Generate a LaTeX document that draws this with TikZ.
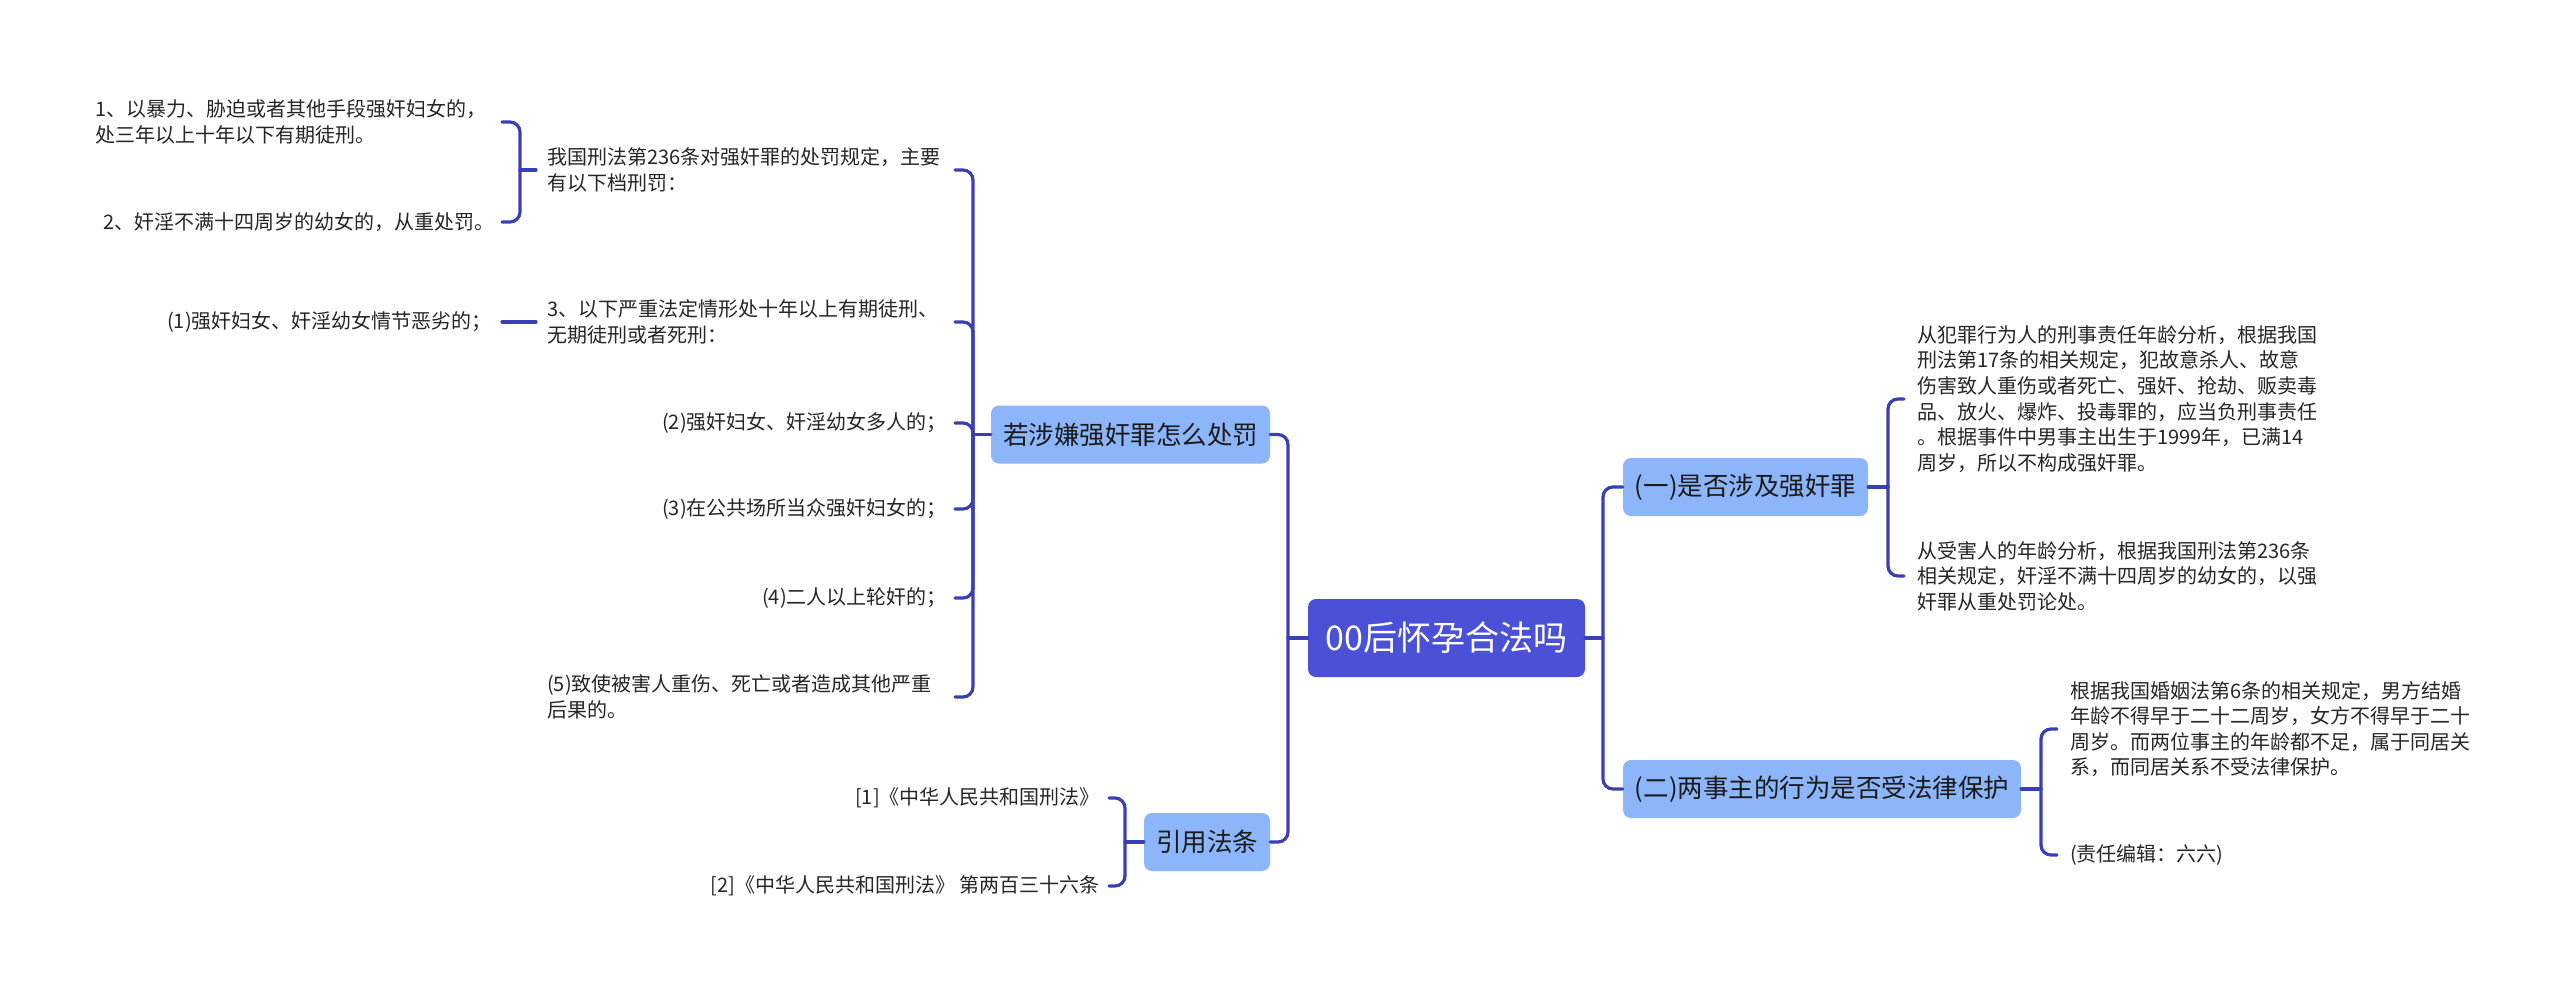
\documentclass[tikz,border=0pt]{standalone}
\usepackage{fontspec}
\setmainfont{Noto Sans CJK SC}
\definecolor{linec}{HTML}{3A3FB6}
\definecolor{rootc}{HTML}{4A51D6}
\definecolor{hubc}{HTML}{8DB5FA}
\definecolor{leafc}{HTML}{262626}
\definecolor{hubtext}{HTML}{1A1A1A}
\tikzset{
  leaf/.style={font=\fontsize{20}{25.6}\selectfont, text=leafc, inner sep=0pt, align=left},
  hub/.style={fill=hubc, rounded corners=8pt, font=\fontsize{25.5}{30}\selectfont, text=hubtext,
              minimum height=58pt, inner sep=0pt},
  rootbox/.style={fill=rootc, rounded corners=8pt, text=white, font=\fontsize{34}{40}\selectfont,
              minimum width=277pt, minimum height=78pt, inner sep=0pt},
  conn/.style={draw=linec, line width=3.2pt, rounded corners=10pt, line cap=round}
}
\begin{document}
\begin{tikzpicture}[x=1pt,y=-1pt]
\fill[white] (0,0) rectangle (2560,994);
\useasboundingbox (0,0) rectangle (2560,994);

% root and hubs
\node[rootbox] (root) at (1446.5,638) {00后怀孕合法吗};
\node[hub, minimum width=279pt] (hA) at (1130.5,434.5) {若涉嫌强奸罪怎么处罚};
\node[hub, minimum width=126pt] (hB) at (1207,842) {引用法条};
\node[hub, minimum width=245pt] (hC) at (1745.5,487) {(一)是否涉及强奸罪};
\node[hub, minimum width=398pt] (hD) at (1822,789) {(二)两事主的行为是否受法律保护};

% left leaves
\node[leaf, anchor=west] (m1) at (95,122) {1、以暴力、胁迫或者其他手段强奸妇女的，\\处三年以上十年以下有期徒刑。};
\node[leaf, anchor=east] (m2) at (495,222) {2、奸淫不满十四周岁的幼女的，从重处罚。};
\node[leaf, anchor=west] (n1) at (547,170) {我国刑法第236条对强奸罪的处罚规定，主要\\有以下档刑罚：};
\node[leaf, anchor=west] (n2) at (547,322) {3、以下严重法定情形处十年以上有期徒刑、\\无期徒刑或者死刑：};
\node[leaf, anchor=east] (p1) at (492,322) {(1)强奸妇女、奸淫幼女情节恶劣的；};
\node[leaf, anchor=east] (n3) at (947,423) {(2)强奸妇女、奸淫幼女多人的；};
\node[leaf, anchor=east] (n4) at (947,509) {(3)在公共场所当众强奸妇女的；};
\node[leaf, anchor=east] (n5) at (947,598) {(4)二人以上轮奸的；};
\node[leaf, anchor=west] (n6) at (547,697) {(5)致使被害人重伤、死亡或者造成其他严重\\后果的。};
\node[leaf, anchor=east] (b1) at (1100,798) {[1]《中华人民共和国刑法》};
\node[leaf, anchor=east] (b2) at (1100,886) {[2]《中华人民共和国刑法》 第两百三十六条};

% right leaves
\node[leaf, anchor=west] (c1) at (1917,399) {从犯罪行为人的刑事责任年龄分析，根据我国\\刑法第17条的相关规定，犯故意杀人、故意\\伤害致人重伤或者死亡、强奸、抢劫、贩卖毒\\品、放火、爆炸、投毒罪的，应当负刑事责任\\。根据事件中男事主出生于1999年，已满14\\周岁，所以不构成强奸罪。};
\node[leaf, anchor=west] (c2) at (1917,576) {从受害人的年龄分析，根据我国刑法第236条\\相关规定，奸淫不满十四周岁的幼女的，以强\\奸罪从重处罚论处。};
\node[leaf, anchor=west] (d1) at (2070,729) {根据我国婚姻法第6条的相关规定，男方结婚\\年龄不得早于二十二周岁，女方不得早于二十\\周岁。而两位事主的年龄都不足，属于同居关\\系，而同居关系不受法律保护。};
\node[leaf, anchor=west] (d2) at (2070,855) {(责任编辑：六六)};

% junction coordinates
\coordinate (jRL) at (1288,638);
\coordinate (jRR) at (1603,638);
\coordinate (jA) at (973,434.5);
\coordinate (sA) at (955,0);
\coordinate (jN) at (520,170);
\coordinate (sN) at (502,0);
\coordinate (jB) at (1125,842);
\coordinate (sB) at (1109,0);
\coordinate (jC) at (1888,487);
\coordinate (sC) at (1904,0);
\coordinate (jD) at (2041,789);
\coordinate (sD) at (2057,0);

% root connectors
\draw[conn] (root.west) -- (jRL);
\draw[conn] (jRL) |- (hA.east);
\draw[conn] (jRL) |- (hB.east);
\draw[conn] (root.east) -- (jRR);
\draw[conn] (jRR) |- (hC.west);
\draw[conn] (jRR) |- (hD.west);

% hub A
\draw[conn] (hA.west) -- (jA);
\draw[conn] (jA) |- (n1.east -| sA);
\draw[conn] (jA) |- (n2.east -| sA);
\draw[conn] (jA) |- (n3.east -| sA);
\draw[conn] (jA) |- (n4.east -| sA);
\draw[conn] (jA) |- (n5.east -| sA);
\draw[conn] (jA) |- (n6.east -| sA);

% n1 bracket
\draw[conn, shorten <=11pt] (n1.west) -- (jN);
\draw[conn] (jN) |- (m1.east -| sN);
\draw[conn] (jN) |- (m2.east -| sN);

% n2 -> (1)
\draw[conn, shorten <=11pt] (n2.west) -- (n2.west -| sN);

% hub B
\draw[conn] (hB.west) -- (jB);
\draw[conn] (jB) |- (b1.east -| sB);
\draw[conn] (jB) |- (b2.east -| sB);

% hub C
\draw[conn] (hC.east) -- (jC);
\draw[conn] (jC) |- (c1.west -| sC);
\draw[conn] (jC) |- (c2.west -| sC);

% hub D
\draw[conn] (hD.east) -- (jD);
\draw[conn] (jD) |- (d1.west -| sD);
\draw[conn] (jD) |- (d2.west -| sD);
\end{tikzpicture}
\end{document}
